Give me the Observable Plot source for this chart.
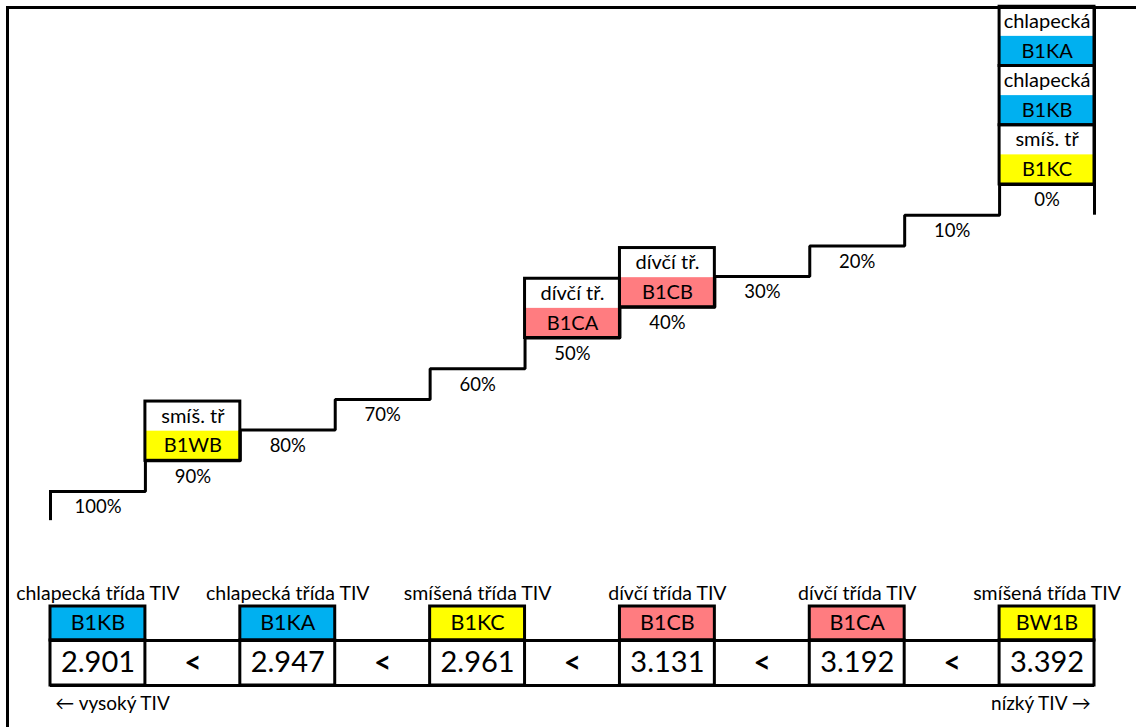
<!DOCTYPE html>
<html><head><meta charset="utf-8">
<script src="https://cdn.jsdelivr.net/npm/d3@7"></script>
<script src="https://cdn.jsdelivr.net/npm/@observablehq/plot@0.6"></script>
<style>
body{margin:0;background:#fff;}
#wrap{position:relative;width:1136px;height:727px;overflow:hidden;font-family:Lato,sans-serif;}
#frame{position:absolute;left:6px;top:6px;width:1200px;height:800px;border-left:3px solid #000;border-top:3px solid #000;}
#top{position:absolute;left:0;top:0;}
#bottom{position:absolute;left:0;top:560px;}
svg{overflow:visible;}
</style></head><body>
<div id="wrap"><div id="frame"></div><div id="top"></div><div id="bottom"></div></div>
<script>
// ---- data ----
const stepPercents = [100, 90, 80, 70, 60, 50, 40, 30, 20, 10, 0];
const stepLabels = ["100%", "90%", "80%", "70%", "60%", "50%", "40%", "30%", "20%", "10%", "0%"];

const boxColumns = [1, 5, 6, 10, 10, 10];
const boxPercents = [90, 50, 40, 0, 0, 0];
const boxStack = [0, 0, 0, 0, 1, 2];
const boxTypes = ["smíš. tř", "dívčí tř.", "dívčí tř.", "smíš. tř", "chlapecká", "chlapecká"];
const boxCodes = ["B1WB", "B1CA", "B1CB", "B1KC", "B1KB", "B1KA"];
const boxKinds = ["mixed", "girls", "girls", "mixed", "boys", "boys"];

const rankCodes = ["B1KB", "B1KA", "B1KC", "B1CB", "B1CA", "BW1B"];
const rankTypes = ["chlapecká třída TIV", "chlapecká třída TIV", "smíšená třída TIV", "dívčí třída TIV", "dívčí třída TIV", "smíšená třída TIV"];
const rankKinds = ["boys", "boys", "mixed", "girls", "girls", "mixed"];
const rankTIV = [2.901, 2.947, 2.961, 3.131, 3.192, 3.392];

const noteLeft = "← vysoký TIV";
const noteRight = "nízký TIV →";

// ---- styles / layout ----
const kindColors = {boys: "#00B0F0", girls: "#FF7C80", mixed: "#FFFF00"};
const FONT = "Lato, sans-serif";
const LW = 3;
const ROW = 9.65; // height of one box row, in percent units

const steps = stepPercents.map((p, i) => ({col: i, pct: p, label: stepLabels[i]}));
const stepLine = steps.concat([{col: steps.length, pct: stepPercents[stepPercents.length - 1]}]);
const boxes = boxCodes.map((c, i) => ({col: boxColumns[i], pct: boxPercents[i], stack: boxStack[i], type: boxTypes[i], code: c, color: kindColors[boxKinds[i]]}));
const ranks = rankCodes.map((c, i) => ({col: i * 2, code: c, type: rankTypes[i], color: kindColors[rankKinds[i]], tiv: rankTIV[i]}));
const gaps = ranks.slice(0, -1).map(r => ({col: r.col + 1}));
const NCOL = steps.length;

const xScale = {domain: [0, NCOL], range: [50, 1094]};

const topPlot = Plot.plot({
  width: 1136, height: 540, margin: 0,
  style: {fontFamily: FONT, background: "transparent"},
  x: {...xScale, axis: null},
  y: {domain: [0, 100], range: [184, 491], axis: null},
  marks: [
    Plot.rect(boxes, {x1: "col", x2: d => d.col + 1, y1: d => d.pct - (2 * d.stack + 1) * ROW, y2: d => d.pct - 2 * d.stack * ROW, fill: "color"}),
    Plot.rect(boxes, {x1: "col", x2: d => d.col + 1, y1: d => d.pct - (2 * d.stack + 2) * ROW, y2: d => d.pct - 2 * d.stack * ROW, fill: "none", stroke: "black", strokeWidth: LW}),
    Plot.text(boxes, {x: d => d.col + 0.5, y: d => d.pct - (2 * d.stack + 0.5) * ROW, text: "code", fontSize: 20, fill: "black"}),
    Plot.text(boxes, {x: d => d.col + 0.5, y: d => d.pct - (2 * d.stack + 1.5) * ROW, text: "type", fontSize: 20, fill: "black"}),
    Plot.line(stepLine, {x: "col", y: "pct", curve: "step-after", stroke: "black", strokeWidth: LW, strokeLinejoin: "miter", strokeLinecap: "square"}),
    Plot.ruleX([0], {y1: 100, y2: 109.5, stroke: "black", strokeWidth: LW}),
    Plot.ruleX([NCOL], {y1: -6 * ROW, y2: 10, stroke: "black", strokeWidth: LW}),
    Plot.text(steps, {x: d => d.col + 0.5, y: d => d.pct + 5.2, text: "label", fontSize: 18.5, fill: "black"})
  ]
});
document.getElementById("top").appendChild(topPlot);

const LABEL_Y = 33, CODE_TOP = 46, ROW_TOP = 80, ROW_BOTTOM = 125, NOTE_Y = 143;
const bottomPlot = Plot.plot({
  width: 1136, height: 167, margin: 0,
  style: {fontFamily: FONT, background: "transparent"},
  x: {...xScale, axis: null},
  y: {domain: [0, 167], range: [0, 167], axis: null},
  marks: [
    Plot.rect(ranks, {x1: "col", x2: d => d.col + 1, y1: CODE_TOP, y2: ROW_TOP, fill: "color", stroke: "black", strokeWidth: LW}),
    Plot.rect(ranks, {x1: "col", x2: d => d.col + 1, y1: ROW_TOP, y2: ROW_BOTTOM, fill: "none", stroke: "black", strokeWidth: LW}),
    Plot.ruleY([ROW_TOP, ROW_BOTTOM], {x1: 0, x2: NCOL, stroke: "black", strokeWidth: LW}),
    Plot.text(ranks, {x: d => d.col + 0.5, y: LABEL_Y, text: "type", fontSize: 19.5, fill: "black"}),
    Plot.text(ranks, {x: d => d.col + 0.5, y: (CODE_TOP + ROW_TOP) / 2, text: "code", fontSize: 21.5, fill: "black"}),
    Plot.text(ranks, {x: d => d.col + 0.5, y: (ROW_TOP + ROW_BOTTOM) / 2, text: d => d3.format(".3f")(d.tiv), fontSize: 29, fill: "black"}),
    Plot.text(gaps, {x: d => d.col + 0.5, y: (ROW_TOP + ROW_BOTTOM) / 2, text: () => "<", fontSize: 30, fontWeight: "bold", fill: "black"}),
    Plot.text([noteLeft], {x: 0.05, y: NOTE_Y, text: d => d, textAnchor: "start", fontSize: 19, fill: "black"}),
    Plot.text([noteRight], {x: NCOL - 0.04, y: NOTE_Y, text: d => d, textAnchor: "end", fontSize: 19, fill: "black"})
  ]
});
document.getElementById("bottom").appendChild(bottomPlot);
</script>
</body></html>
